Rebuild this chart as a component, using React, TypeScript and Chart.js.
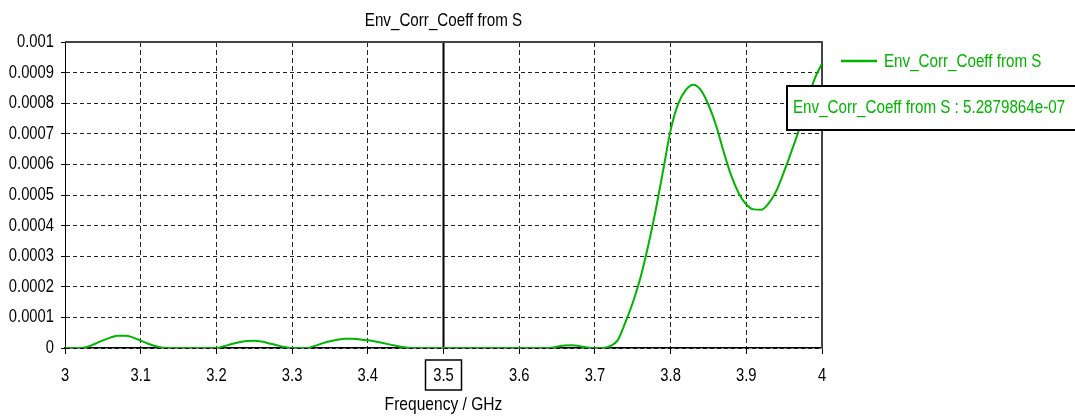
import React, { useEffect, useRef } from "react";
import { Chart, registerables } from "chart.js";

Chart.register(...registerables);

const freqGHz = [
  3.0, 3.01, 3.02, 3.03, 3.04, 3.05, 3.06, 3.07, 3.08, 3.09,
  3.1, 3.11, 3.12, 3.13, 3.14, 3.15, 3.16, 3.17, 3.18, 3.19,
  3.2, 3.21, 3.22, 3.23, 3.24, 3.25, 3.26, 3.27, 3.28, 3.29,
  3.3, 3.31, 3.32, 3.33, 3.34, 3.35, 3.36, 3.37, 3.38, 3.39,
  3.4, 3.41, 3.42, 3.43, 3.44, 3.45, 3.46, 3.47, 3.48, 3.49,
  3.5, 3.51, 3.52, 3.53, 3.54, 3.55, 3.56, 3.57, 3.58, 3.59,
  3.6, 3.61, 3.62, 3.63, 3.64, 3.65, 3.66, 3.67, 3.68, 3.69,
  3.7, 3.71, 3.72, 3.73, 3.74, 3.75, 3.76, 3.77, 3.78, 3.79,
  3.8, 3.81, 3.82, 3.83, 3.84, 3.85, 3.86, 3.87, 3.88, 3.89,
  3.9, 3.91, 3.92, 3.93, 3.94, 3.95, 3.96, 3.97, 3.98, 3.99,
  4.0,
];

const envCorr = [
  0, 0, 0, 0.000004, 0.000014, 0.000025, 0.000034, 0.00004, 0.00004, 0.000034,
  0.000024, 0.000014, 0.000006, 0.000001, 0, 0, 0, 0, 0, 0,
  0, 0.000006, 0.000013, 0.000019, 0.000023, 0.000024, 0.000021, 0.000015, 0.000009, 0.000003,
  0, 0, 0, 0.000007, 0.000015, 0.000022, 0.000027, 0.00003, 0.00003, 0.000028,
  0.000025, 0.000021, 0.000016, 0.000011, 0.000006, 0.000002, 0, 0, 0, 0,
  0, 0, 0, 0, 0, 0, 0, 0, 0, 0,
  0, 0, 0, 0, 0, 0.000004, 0.000008, 0.000009, 0.000006, 0.000002,
  0, 0, 0.000006, 0.000025, 0.000082, 0.000148, 0.000228, 0.00033, 0.000447, 0.000578,
  0.000712, 0.000798, 0.000843, 0.00086, 0.000843, 0.000795, 0.000728, 0.000642, 0.000564, 0.000506,
  0.000469, 0.000453, 0.000452, 0.000474, 0.000515, 0.000577, 0.000645, 0.000716, 0.0008, 0.000878,
  0.00093,
];

const xTickLabels = ["3", "3.1", "3.2", "3.3", "3.4", "3.5", "3.6", "3.7", "3.8", "3.9", "4"];
const xTickValues = [3, 3.1, 3.2, 3.3, 3.4, 3.5, 3.6, 3.7, 3.8, 3.9, 4];
const yTickLabels = [
  "0", "0.0001", "0.0002", "0.0003", "0.0004", "0.0005",
  "0.0006", "0.0007", "0.0008", "0.0009", "0.001",
];
const yTickValues = [0, 0.0001, 0.0002, 0.0003, 0.0004, 0.0005, 0.0006, 0.0007, 0.0008, 0.0009, 0.001];

const titleText = "Env_Corr_Coeff from S";
const seriesName = "Env_Corr_Coeff from S";
const xAxisTitle = "Frequency / GHz";
const markerFreq = 3.5;
const readoutText = "Env_Corr_Coeff from S : 5.2879864e-07";

const GREEN = "#00b400";
const FONT = '"Liberation Sans", Arial, sans-serif';
const NARROW = 0.82;

function narrowText(
  ctx: CanvasRenderingContext2D,
  text: string,
  x: number,
  y: number,
  align: CanvasTextAlign,
  size: number,
  color: string
) {
  ctx.save();
  ctx.translate(x, y);
  ctx.scale(NARROW, 1);
  ctx.font = `${size}px ${FONT}`;
  ctx.textAlign = align;
  ctx.textBaseline = "middle";
  ctx.fillStyle = color;
  ctx.fillText(text, 0, 0);
  ctx.restore();
}

const overlayPlugin = {
  id: "overlay",
  beforeDatasetsDraw(chart: any) {
    const { ctx, chartArea, scales } = chart;
    const x = scales.x.getPixelForValue(markerFreq);
    ctx.save();
    ctx.strokeStyle = "#000";
    ctx.lineWidth = 2;
    ctx.beginPath();
    ctx.moveTo(x, chartArea.top);
    ctx.lineTo(x, chartArea.bottom);
    ctx.stroke();
    ctx.strokeStyle = "#444";
    ctx.lineWidth = 2;
    ctx.beginPath();
    ctx.moveTo(chartArea.left, chartArea.top);
    ctx.lineTo(chartArea.right, chartArea.top);
    ctx.lineTo(chartArea.right, chartArea.bottom);
    ctx.stroke();
    ctx.restore();
  },
  afterDraw(chart: any) {
    const { ctx, chartArea, scales } = chart;
    const cx = (chartArea.left + chartArea.right) / 2;
    xTickValues.forEach((v, i) => {
      narrowText(ctx, xTickLabels[i], scales.x.getPixelForValue(v), 376, "center", 18, "#000");
    });
    yTickValues.forEach((v, i) => {
      narrowText(ctx, yTickLabels[i], 54, scales.y.getPixelForValue(v), "right", 18, "#000");
    });
    narrowText(ctx, titleText, cx, 21, "center", 18.5, "#000");
    narrowText(ctx, xAxisTitle, cx, 405, "center", 19, "#000");
    const mx = scales.x.getPixelForValue(markerFreq);
    ctx.save();
    ctx.strokeStyle = "#000";
    ctx.lineWidth = 1.5;
    ctx.strokeRect(mx - 18, 360, 36, 30);
    ctx.strokeStyle = GREEN;
    ctx.lineWidth = 2.5;
    ctx.beginPath();
    ctx.moveTo(841, 61);
    ctx.lineTo(877, 61);
    ctx.stroke();
    ctx.fillStyle = "#fff";
    ctx.fillRect(787, 86, 300, 44);
    ctx.strokeStyle = "#000";
    ctx.lineWidth = 2;
    ctx.strokeRect(787, 86, 300, 44);
    ctx.restore();
    narrowText(ctx, seriesName, 884, 62, "left", 18.5, GREEN);
    narrowText(ctx, readoutText, 793, 108, "left", 18.5, GREEN);
  },
};

export default function App() {
  const canvasRef = useRef<HTMLCanvasElement | null>(null);

  useEffect(() => {
    if (!canvasRef.current) return;
    const chart = new Chart(canvasRef.current, {
      type: "line",
      data: {
        datasets: [
          {
            label: seriesName,
            data: freqGHz.map((f, i) => ({ x: f, y: envCorr[i] })),
            borderColor: GREEN,
            backgroundColor: GREEN,
            borderWidth: 2,
            pointRadius: 0,
            cubicInterpolationMode: "monotone",
            fill: false,
          },
        ],
      },
      options: {
        responsive: false,
        animation: false,
        layout: { padding: { left: 0, top: 42, right: 253, bottom: 0 } },
        plugins: {
          legend: { display: false },
          title: { display: false },
          tooltip: { enabled: false },
        },
        scales: {
          x: {
            type: "linear",
            min: 3,
            max: 4,
            afterFit: (s: any) => {
              s.height = 68;
            },
            ticks: {
              stepSize: 0.1,
              autoSkip: false,
              maxRotation: 0,
              display: false,
            },
            grid: {
              color: "#222",
              lineWidth: 1,
              tickLength: 6,
              tickColor: "#000",
            },
            border: { display: true, color: "#000", width: 1.5, dash: [5, 3] },
          },
          y: {
            type: "linear",
            min: 0,
            max: 0.001,
            afterFit: (s: any) => {
              s.width = 65;
            },
            ticks: {
              stepSize: 0.0001,
              autoSkip: false,
              display: false,
            },
            grid: {
              color: "#222",
              lineWidth: 1,
              tickLength: 4,
              tickColor: "#000",
            },
            border: { display: true, color: "#000", width: 1, dash: [4, 3] },
          },
        },
      },
      plugins: [overlayPlugin],
    });
    return () => chart.destroy();
  }, []);

  return (
    <div style={{ position: "fixed", left: 0, top: 0, width: 1075, height: 416, background: "#fff" }}>
      <canvas ref={canvasRef} width={1075} height={416} style={{ display: "block" }} />
    </div>
  );
}
